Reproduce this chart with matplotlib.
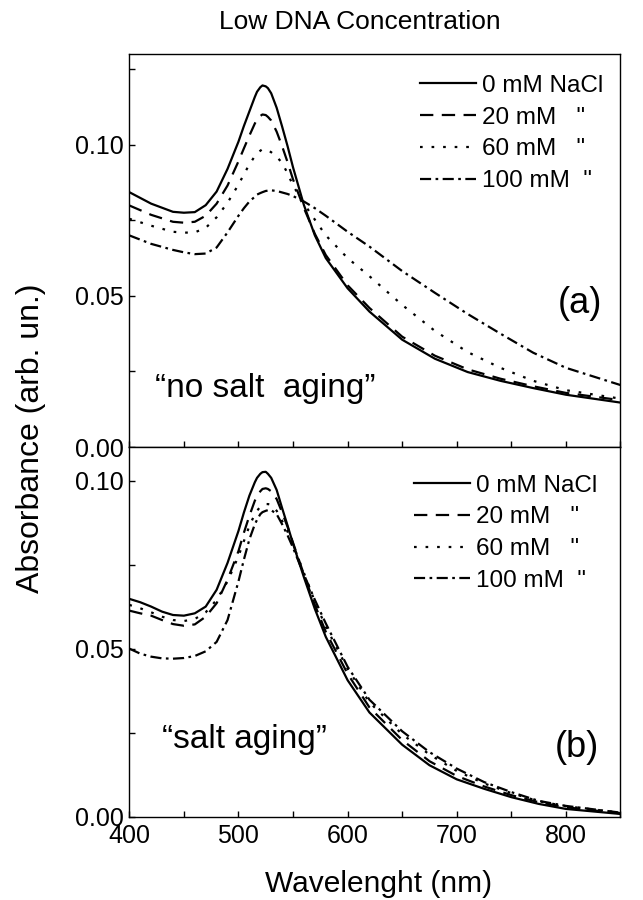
import matplotlib
matplotlib.use("Agg")
from matplotlib import pyplot as plt
from matplotlib.ticker import MultipleLocator, FormatStrFormatter

plt.rcParams['font.family'] = ['Liberation Sans', 'DejaVu Sans']

# (a) no salt aging
wl_a = [400, 420, 440, 450, 460, 470, 480, 490, 500, 505, 510, 515, 517, 520, 522,
        525, 527, 530, 535, 540, 545, 550, 560, 570, 580, 600, 620, 650, 680, 710,
        740, 770, 800, 850]
a_0mM = [0.0843, 0.0805, 0.0778, 0.0775, 0.0777, 0.0800, 0.0845, 0.0920, 0.1010,
         0.1062, 0.1110, 0.1158, 0.1175, 0.1190, 0.1196, 0.1193, 0.1187, 0.1170,
         0.1122, 0.1060, 0.0995, 0.0925, 0.0800, 0.0700, 0.0625, 0.0525, 0.0448,
         0.0355, 0.0292, 0.0248, 0.0219, 0.0195, 0.0173, 0.0147]
a_20mM = [0.0799, 0.0768, 0.0745, 0.0742, 0.0745, 0.0765, 0.0805, 0.0865, 0.0945,
          0.0988, 0.1030, 0.1070, 0.1083, 0.1095, 0.1100, 0.1098, 0.1092, 0.1080,
          0.1043, 0.0995, 0.0942, 0.0885, 0.0790, 0.0705, 0.0635, 0.0535, 0.0460,
          0.0365, 0.0302, 0.0257, 0.0226, 0.0201, 0.0179, 0.0155]
a_60mM = [0.0755, 0.0732, 0.0712, 0.0709, 0.0710, 0.0725, 0.0760, 0.0808, 0.0868,
          0.0902, 0.0935, 0.0962, 0.0970, 0.0980, 0.0985, 0.0985, 0.0982, 0.0975,
          0.0960, 0.0940, 0.0905, 0.0865, 0.0805, 0.0752, 0.0700, 0.0625, 0.0565,
          0.0470, 0.0384, 0.0314, 0.0262, 0.0219, 0.0188, 0.0160]
a_100mM = [0.0700, 0.0672, 0.0652, 0.0644, 0.0638, 0.0640, 0.0660, 0.0710, 0.0765,
           0.0790, 0.0812, 0.0828, 0.0835, 0.0840, 0.0843, 0.0847, 0.0848, 0.0849,
           0.0847, 0.0842, 0.0837, 0.0830, 0.0812, 0.0790, 0.0765, 0.0712, 0.0663,
           0.0582, 0.0510, 0.0440, 0.0375, 0.0312, 0.0262, 0.0205]

# (b) salt aging
wl_b = [400, 410, 420, 430, 440, 450, 460, 470, 480, 490, 500, 505, 510, 515, 517,
        520, 522, 525, 527, 530, 535, 540, 545, 550, 560, 570, 580, 600, 620, 650,
        675, 700, 725, 750, 775, 800, 850]
b_0mM = [0.0648, 0.0638, 0.0625, 0.0610, 0.0600, 0.0598, 0.0605, 0.0625, 0.0675,
         0.0755, 0.0850, 0.0905, 0.0955, 0.0995, 0.1008, 0.1020, 0.1025, 0.1026,
         0.1020, 0.1008, 0.0972, 0.0918, 0.0866, 0.0812, 0.0712, 0.0618, 0.0535,
         0.0406, 0.0310, 0.0214, 0.0153, 0.0111, 0.0083, 0.0058, 0.0038, 0.0023,
         0.0008]
b_20mM = [0.0613, 0.0605, 0.0598, 0.0585, 0.0573, 0.0568, 0.0572, 0.0595, 0.0635,
          0.0705, 0.0790, 0.0845, 0.0895, 0.0940, 0.0953, 0.0968, 0.0975, 0.0977,
          0.0975, 0.0968, 0.0945, 0.0905, 0.0862, 0.0815, 0.0720, 0.0630, 0.0550,
          0.0425, 0.0325, 0.0228, 0.0165, 0.0121, 0.0090, 0.0064, 0.0043, 0.0028,
          0.0010]
b_60mM = [0.0630, 0.0620, 0.0608, 0.0595, 0.0585, 0.0582, 0.0588, 0.0608, 0.0645,
          0.0700, 0.0775, 0.0820, 0.0865, 0.0900, 0.0910, 0.0922, 0.0927, 0.0930,
          0.0930, 0.0928, 0.0910, 0.0880, 0.0848, 0.0810, 0.0725, 0.0640, 0.0565,
          0.0440, 0.0340, 0.0245, 0.0185, 0.0136, 0.0099, 0.0070, 0.0046, 0.0031,
          0.0012]
b_100mM = [0.0500, 0.0485, 0.0476, 0.0471, 0.0470, 0.0472, 0.0478, 0.0492, 0.0520,
           0.0585, 0.0700, 0.0765, 0.0825, 0.0870, 0.0883, 0.0900, 0.0906, 0.0910,
           0.0912, 0.0912, 0.0900, 0.0870, 0.0837, 0.0800, 0.0720, 0.0645, 0.0575,
           0.0446, 0.0348, 0.0254, 0.0192, 0.0143, 0.0103, 0.0073, 0.0047, 0.0032,
           0.0012]

labels = ['0 mM NaCl', '20 mM   "', '60 mM   "', '100 mM  "']
styles = ['-', (0, (6, 3.8)), (0, (1.2, 4)), (0, (5, 2, 1.2, 2))]

fig = plt.figure(figsize=(6.43, 9.0), dpi=100)
ax1 = fig.add_axes([0.2011, 0.5033, 0.7639, 0.4367])
ax2 = fig.add_axes([0.2011, 0.0926, 0.7639, 0.4108])

for ax, wl, series in [(ax1, wl_a, [a_0mM, a_20mM, a_60mM, a_100mM]),
                       (ax2, wl_b, [b_0mM, b_20mM, b_60mM, b_100mM])]:
    for ys, ls, lab in zip(series, styles, labels):
        ax.plot(wl, ys, color='black', linestyle=ls, linewidth=1.6, label=lab)
    ax.set_xlim(400, 850)
    ax.xaxis.set_major_locator(MultipleLocator(100))
    ax.xaxis.set_minor_locator(MultipleLocator(50))
    ax.yaxis.set_major_locator(MultipleLocator(0.05))
    ax.yaxis.set_minor_locator(MultipleLocator(0.025))
    ax.yaxis.set_major_formatter(FormatStrFormatter('%.2f'))
    ax.tick_params(which='both', direction='in', length=4, width=1,
                   labelsize=18, pad=4, top=False, right=False)
    ax.tick_params(axis='x', pad=5.5)
    for sp in ax.spines.values():
        sp.set_linewidth(1.0)

ax1.set_ylim(0, 0.13)
ax2.set_ylim(0, 0.11)
ax1.tick_params(labelbottom=False)

leg_kw = dict(frameon=False, fontsize=17.5, handlelength=2.3, handletextpad=0.25,
              labelspacing=0.4, borderpad=0, borderaxespad=0, loc='upper left')
ax1.legend(bbox_to_anchor=(0.592, 0.947), **leg_kw)
ax2.legend(bbox_to_anchor=(0.579, 0.925), **leg_kw)

ax1.text(0.962, 0.366, '(a)', transform=ax1.transAxes, fontsize=26,
         ha='right', va='center')
ax2.text(0.956, 0.187, '(b)', transform=ax2.transAxes, fontsize=26,
         ha='right', va='center')
ax1.text(0.052, 0.128, '\u201cno salt  aging\u201d', transform=ax1.transAxes,
         fontsize=24, ha='left', va='baseline')
ax2.text(0.066, 0.186, '\u201csalt aging\u201d', transform=ax2.transAxes,
         fontsize=24, ha='left', va='baseline')

fig.text(360 / 643, 1 - 22 / 900, 'Low DNA Concentration', fontsize=19,
         ha='center', va='center')
fig.text(31.5 / 643, 1 - 438 / 900, 'Absorbance (arb. un.)', fontsize=23,
         rotation=90, ha='center', va='center')
fig.text(379 / 643, 1 - 892 / 900, 'Wavelenght (nm)', fontsize=21.5,
         ha='center', va='baseline')

fig.savefig('out.png', dpi=100)
